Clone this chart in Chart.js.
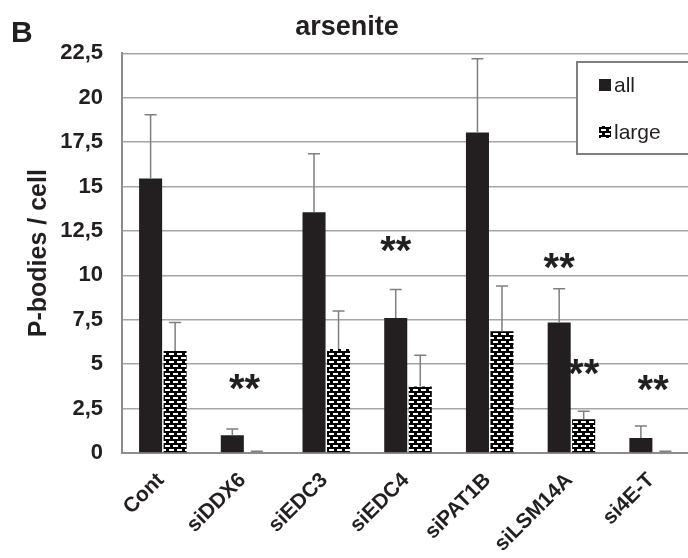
<!DOCTYPE html>
<html>
<head>
<meta charset="utf-8">
<script src="https://cdn.jsdelivr.net/npm/chart.js@4/dist/chart.umd.min.js"></script>
<style>
  html, body { margin: 0; padding: 0; background: #fff; overflow: hidden; }
  #wrap { width: 700px; height: 558px; }
</style>
</head>
<body>
<div id="wrap"><canvas id="chart" width="700" height="558"></canvas></div>
<script>
// data
const categories = ['Cont', 'siDDX6', 'siEDC3', 'siEDC4', 'siPAT1B', 'siLSM14A', 'si4E-T'];
const allValues = [15.45, 1.0, 13.55, 7.6, 18.05, 7.35, 0.85];
const allErrors = [3.6, 0.35, 3.3, 1.6, 4.15, 1.9, 0.67];
const largeValues = [5.75, 0.04, 5.85, 3.75, 6.85, 1.9, 0.04];
const largeErrors = [1.6, 0.06, 2.15, 1.75, 2.55, 0.45, 0.06];
const seriesLabels = ['all', 'large'];

// significance marks
const starCategories = ['siDDX6', 'siEDC4', 'siLSM14A', 'siLSM14A', 'si4E-T'];
const starSeries = ['group', 'all', 'all', 'large', 'group'];
const starValues = [4.15, 11.95, 11.0, 5.0, 4.1];

const ink = '#231f20';
const grey = '#8c8c8c';
const FONT = '"Liberation Sans", Arial, sans-serif';

Chart.defaults.font.family = FONT;
Chart.defaults.color = ink;

// brick-like pattern for the "large" bars
function makePattern() {
    const c = document.createElement('canvas');
    c.width = 8; c.height = 8;
    const g = c.getContext('2d');
    g.fillStyle = '#000';
    g.fillRect(0, 0, 8, 8);
    g.fillStyle = '#fff';
    g.fillRect(1, 1, 5, 2);
    g.fillRect(5, 5, 3, 2);
    g.fillRect(0, 5, 2, 2);
    return g.createPattern(c, 'repeat');
}
const largePattern = makePattern();

const errorBars = {
    id: 'errorBars',
    afterDatasetsDraw(chart) {
        const ctx = chart.ctx;
        const y = chart.scales.y;
        ctx.save();
        ctx.strokeStyle = '#7f7f7f';
        ctx.lineWidth = 1.5;
        chart.data.datasets.forEach((ds, i) => {
            const meta = chart.getDatasetMeta(i);
            meta.data.forEach((bar, j) => {
                const top = y.getPixelForValue(ds.data[j] + ds.errors[j]);
                ctx.beginPath();
                ctx.moveTo(bar.x, bar.y);
                ctx.lineTo(bar.x, top);
                ctx.moveTo(bar.x - 6, top);
                ctx.lineTo(bar.x + 6, top);
                ctx.stroke();
            });
        });
        ctx.restore();
    }
};

const stars = {
    id: 'stars',
    afterDatasetsDraw(chart) {
        const ctx = chart.ctx;
        const y = chart.scales.y;
        ctx.save();
        ctx.fillStyle = ink;
        ctx.font = 'bold 40px ' + FONT;
        ctx.textAlign = 'center';
        ctx.textBaseline = 'alphabetic';
        starCategories.forEach((cat, k) => {
            const j = categories.indexOf(cat);
            let x;
            if (starSeries[k] === 'group') x = chart.scales.x.getPixelForValue(j);
            else x = chart.getDatasetMeta(seriesLabels.indexOf(starSeries[k])).data[j].x;
            ctx.fillText('**', x, y.getPixelForValue(starValues[k]) + 23);
        });
        ctx.restore();
    }
};

// legend box sitting inside the plot, and the panel letter
const extras = {
    id: 'extras',
    afterDraw(chart) {
        const ctx = chart.ctx;
        ctx.save();
        ctx.fillStyle = '#fff';
        ctx.fillRect(577, 62, 130, 92);
        ctx.strokeStyle = '#808080';
        ctx.lineWidth = 2;
        ctx.strokeRect(577, 62, 130, 92);
        ctx.font = '21px ' + FONT;
        ctx.textBaseline = 'alphabetic';
        chart.data.datasets.forEach((ds, i) => {
            const top = 79 + i * 47;
            ctx.fillStyle = ds.backgroundColor;
            ctx.fillRect(599, top, 12, 12);
            ctx.fillStyle = ink;
            ctx.fillText(ds.label, 614, top + 13);
        });
        ctx.font = 'bold 30px ' + FONT;
        ctx.fillText('B', 11, 42);
        ctx.restore();
    }
};

new Chart(document.getElementById('chart'), {
    type: 'bar',
    data: {
        labels: categories,
        datasets: [
            { label: seriesLabels[0], data: allValues, errors: allErrors, backgroundColor: ink },
            { label: seriesLabels[1], data: largeValues, errors: largeErrors, backgroundColor: largePattern }
        ]
    },
    options: {
        responsive: false,
        animation: false,
        devicePixelRatio: 1,
        categoryPercentage: 0.6,
        barPercentage: 0.94,
        layout: { padding: { left: 0, right: 6, top: 0, bottom: 0 } },
        plugins: {
            legend: { display: false },
            tooltip: { enabled: false },
            title: {
                display: true,
                text: 'arsenite',
                color: ink,
                font: { size: 27, weight: 'bold' },
                padding: { top: 11, bottom: 10 }
            }
        },
        scales: {
            x: {
                grid: { display: false, drawTicks: false },
                border: { display: true, color: grey, width: 2 },
                ticks: {
                    autoSkip: false,
                    minRotation: 45,
                    maxRotation: 45,
                    padding: 15,
                    labelOffset: -2,
                    color: ink,
                    font: { size: 21, weight: 'bold' }
                },
                afterFit(scale) { scale.height = 105; }
            },
            y: {
                min: 0,
                max: 22.5,
                grid: { color: '#a6a6a6', lineWidth: 1.5, drawTicks: false },
                border: { display: true, color: grey, width: 2 },
                ticks: {
                    stepSize: 2.5,
                    padding: 19,
                    color: ink,
                    font: { size: 22, weight: 'bold' },
                    callback: v => String(v).replace('.', ',')
                },
                title: {
                    display: true,
                    text: 'P-bodies / cell',
                    color: ink,
                    font: { size: 25, weight: 'bold' },
                    padding: { top: 24, bottom: 0 }
                },
                afterFit(scale) { scale.width = 122; }
            }
        }
    },
    plugins: [errorBars, stars, extras]
});
</script>
</body>
</html>
